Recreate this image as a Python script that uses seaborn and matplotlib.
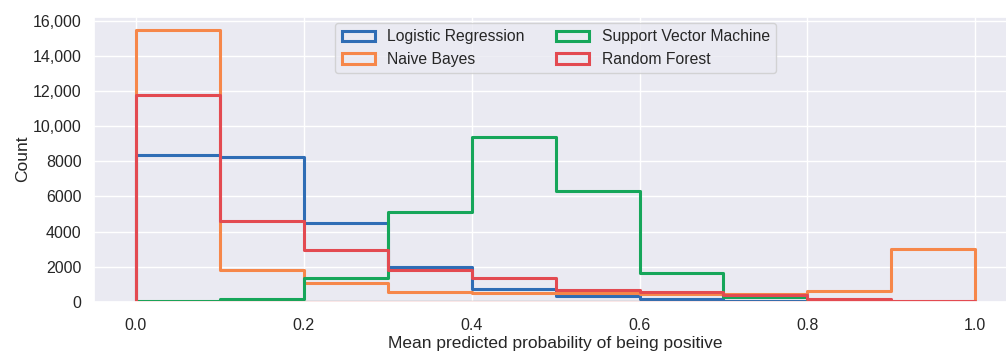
import numpy as np
import pandas as pd
import matplotlib
matplotlib.use("Agg")
import matplotlib.pyplot as plt
from matplotlib.colors import to_rgba
from matplotlib.ticker import FuncFormatter, FixedLocator
import seaborn as sns

bin_edges = [0.0, 0.1, 0.2, 0.3, 0.4, 0.5, 0.6, 0.7, 0.8, 0.9, 1.0]
models = ["Logistic Regression", "Naive Bayes", "Support Vector Machine", "Random Forest"]
logreg = [8350, 8250, 4500, 2000, 750, 320, 140, 60, 15, 5]
naive_bayes = [15500, 1830, 1050, 560, 470, 470, 460, 410, 610, 3000]
svm = [15, 150, 1350, 5100, 9400, 6300, 1650, 270, 20, 5]
rforest = [11800, 4600, 2950, 1800, 1350, 680, 560, 370, 170, 60]
colors = ["#2f6db5", "#f6874a", "#16a65a", "#e34a51"]
y_ticks = [0, 2000, 4000, 6000, 8000, 10000, 12000, 14000, 16000]
x_ticks = [0.0, 0.2, 0.4, 0.6, 0.8, 1.0]

edges = np.array(bin_edges)
centers = (edges[:-1] + edges[1:]) / 2
rows = []
for name, vals in zip(models, [logreg, naive_bayes, svm, rforest]):
    for c, v in zip(centers, vals):
        rows.append({"prob": c, "count": v, "model": name})
df = pd.DataFrame(rows)

sns.set_theme(style="darkgrid")
plt.rcParams["font.family"] = ["Liberation Sans", "DejaVu Sans"]
plt.rcParams["text.color"] = "#262626"

fig = plt.figure(figsize=(10.06, 3.51), dpi=100)
ax = fig.add_axes([0.0934, 0.1405, 0.9178, 0.8119])
sns.histplot(data=df, x="prob", weights="count", hue="model", hue_order=models,
             palette=colors, bins=list(bin_edges), element="step", fill=True,
             facecolor="none", linewidth=2.2, ax=ax)

# draw later models on top (Random Forest topmost), as in the reference
rgba = [np.array(to_rgba(c)) for c in colors]
for coll in ax.collections:
    ec = np.array(coll.get_edgecolor()[0])
    idx = int(np.argmin([np.abs(ec - r).sum() for r in rgba]))
    coll.set_zorder(2 + idx * 0.1)

ax.set_xlim(-0.05, 1.05)
ax.set_ylim(0, 16250)
ax.yaxis.set_major_locator(FixedLocator(y_ticks))
ax.xaxis.set_major_locator(FixedLocator(x_ticks))
ax.yaxis.set_major_formatter(FuncFormatter(lambda v, p: f"{v:,.0f}" if v >= 10000 else f"{v:.0f}"))
ax.tick_params(axis="y", labelsize=11.5, colors="#262626", pad=3)
ax.tick_params(axis="x", labelsize=11.5, colors="#262626", pad=6)
ax.set_xlabel("Mean predicted probability of being positive", fontsize=12.5, labelpad=2)
ax.set_ylabel("Count", fontsize=12.5, labelpad=2)

leg = ax.get_legend()
handles = leg.legend_handles
labels = [t.get_text() for t in leg.get_texts()]
leg.remove()
lg = ax.legend(handles, labels, loc="upper center", ncol=2, fontsize=11.3,
               frameon=True, handlelength=2.1, handleheight=0.65, handletextpad=0.8,
               columnspacing=2.0, borderaxespad=0.4)
lg.set_zorder(5)

fig.savefig("out.png", dpi=100)
